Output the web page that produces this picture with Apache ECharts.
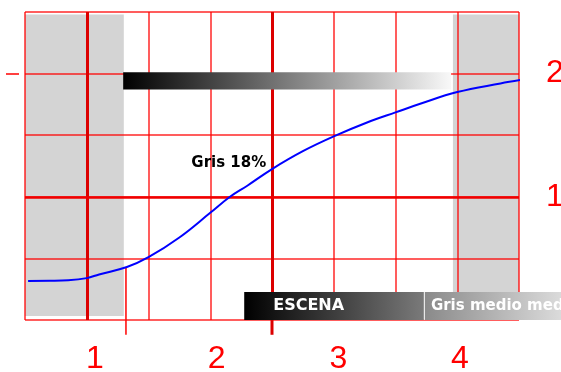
<!DOCTYPE html>
<html>
<head>
<meta charset="utf-8">
<style>
  html, body { margin: 0; padding: 0; background: #fff; }
  #chart { width: 561px; height: 372px; }
</style>
<script src="https://cdn.jsdelivr.net/npm/echarts@6/dist/echarts.min.js"></script>
</head>
<body>
<div id="chart"></div>
<script>
// curva característica: x en divisiones de rejilla, y en densidad
const curveX = [0.05, 0.4, 0.7, 1.0, 1.2, 1.65, 2.0, 2.5, 3.0, 3.32, 3.6, 4.0, 4.5, 5.0, 5.6, 6.0, 6.4, 7.0, 7.7, 8.05]
const curveY = [0.317, 0.318, 0.322, 0.34, 0.37, 0.43, 0.51, 0.67, 0.87, 1.0, 1.09, 1.225, 1.37, 1.49, 1.615, 1.685, 1.755, 1.85, 1.92, 1.95]

const densityLabels = [1, 2]
const leftTicks = [2]
const stopLabels = [1, 2, 3, 4]
const stopRange = [0.425, 4.485]

const greyZones = [[0, 1.6], [6.93, 8]]
const greyRange = [0.032, 2.48]
const thickX = [1, 4]
const thickY = [1]

const topBarX = [1.59, 6.9]
const topBarY = [1.87, 2.01]
const bottomBarX = [3.55, 6.46, 8.7]
const bottomBarY = [0, 0.227]
const bottomTexts = ['ESCENA', 'Gris medio medido']
const noteText = 'Gris 18%'
const notePos = [3.3, 1.27]
const ticks = [
  [[1.635, 0.43], [1.635, -0.12]],
  [[4, 0], [4, -0.12]]
]

const red = '#ff0000'
const gridRed = 'rgba(255,0,0,0.85)'
const chart = echarts.init(document.getElementById('chart'))

const option = {
  animation: false,
  grid: { left: 25, top: 12, right: 42, bottom: 52, outerBoundsMode: 'none', containLabel: false },
  xAxis: [{
    type: 'value', min: 0, max: 8, interval: 1, z: 2,
    axisLine: { show: false }, axisTick: { show: false }, axisLabel: { show: false },
    splitLine: { lineStyle: { color: gridRed, width: 1.5 } }
  }, {
    type: 'value', min: stopRange[0], max: stopRange[1], position: 'bottom',
    axisLine: { show: false }, axisTick: { show: false }, splitLine: { show: false },
    axisLabel: {
      customValues: stopLabels, color: red, fontSize: 32,
      fontFamily: 'Liberation Sans, Arial', margin: 23
    }
  }],
  yAxis: [{
    type: 'value', min: 0, max: 2.5, interval: 0.5, position: 'right', z: 2,
    axisLine: { show: false }, axisTick: { show: false },
    splitLine: { lineStyle: { color: gridRed, width: 1.5 } },
    axisLabel: {
      customValues: densityLabels, color: red, fontSize: 32,
      fontFamily: 'Liberation Sans, Arial', margin: 27
    }
  }, {
    type: 'value', min: 0, max: 2.5, position: 'left', offset: 6,
    axisLine: { show: false }, splitLine: { show: false }, axisLabel: { show: false },
    axisTick: { show: true, customValues: leftTicks, length: 13, lineStyle: { color: red, width: 1.5 } }
  }],
  series: [{
    type: 'line', z: 4,
    data: curveX.map((x, i) => [x, curveY[i]]),
    smooth: 0.4, symbol: 'none', clip: false,
    lineStyle: { color: '#0000ff', width: 2 },
    markArea: {
      silent: true, z: 1,
      itemStyle: { color: '#d4d4d4' },
      data: greyZones.map(z => [{ coord: [z[0], greyRange[0]] }, { coord: [z[1], greyRange[1]] }])
    },
    markLine: {
      silent: true, z: 3, symbol: 'none', label: { show: false },
      lineStyle: { color: '#dc0000', width: 3, type: 'solid' },
      data: thickX.map(v => ({ xAxis: v }))
        .concat(thickY.map(v => ({ yAxis: v, lineStyle: { width: 2.5, color: '#f00000' } })))
    }
  }].concat(ticks.map((t, i) => ({
    type: 'line', z: 3, clip: false, symbol: 'none', data: t,
    lineStyle: { color: i === 1 ? '#dc0000' : red, width: i === 1 ? 3 : 1.5 }
  }))).concat([{
    type: 'scatter', z: 6, symbolSize: 0,
    itemStyle: { opacity: 1 },
    data: [{ value: notePos, name: noteText }],
    label: {
      show: true, position: 'inside', formatter: '{b}',
      color: '#000', fontSize: 15, fontWeight: 'bold', fontFamily: 'DejaVu Sans'
    }
  }])
}
chart.setOption(option)

const px = (x, y) => chart.convertToPixel({ seriesIndex: 0 }, [x, y])
const grad = (a, b) => new echarts.graphic.LinearGradient(0, 0, 1, 0, [
  { offset: 0, color: a }, { offset: 1, color: b }
])

const t0 = px(topBarX[0], topBarY[1]), t1 = px(topBarX[1], topBarY[0])
const b0 = px(bottomBarX[0], bottomBarY[1]), b1 = px(bottomBarX[1], bottomBarY[0])
const b2 = px(bottomBarX[2], bottomBarY[0])
const textStyle = { fill: '#fff', fontWeight: 'bold', fontFamily: 'DejaVu Sans', verticalAlign: 'middle' }

chart.setOption({
  graphic: [
    { type: 'rect', z: 10, shape: { x: t0[0], y: t0[1], width: t1[0] - t0[0], height: t1[1] - t0[1] },
      style: { fill: grad('#000000', '#f8f8f8') } },
    { type: 'rect', z: 10, shape: { x: b0[0], y: b0[1], width: b1[0] - b0[0], height: b1[1] - b0[1] },
      style: { fill: grad('#000000', '#7a7a7a') } },
    { type: 'rect', z: 10, shape: { x: b1[0] + 1, y: b0[1], width: b2[0] - b1[0], height: b1[1] - b0[1] },
      style: { fill: grad('#8a8a8a', '#dcdcdc') } },
    { type: 'line', z: 11, shape: { x1: b1[0] + 0.5, y1: b0[1], x2: b1[0] + 0.5, y2: b1[1] },
      style: { stroke: '#e8e8e8', lineWidth: 1 } },
    { type: 'text', z: 12, x: b0[0] + 29, y: (b0[1] + b1[1]) / 2,
      style: Object.assign({ text: bottomTexts[0], fontSize: 16 }, textStyle) },
    { type: 'text', z: 12, x: b1[0] + 7, y: (b0[1] + b1[1]) / 2,
      style: Object.assign({ text: bottomTexts[1], fontSize: 15 }, textStyle) }
  ]
})
</script>
</body>
</html>
